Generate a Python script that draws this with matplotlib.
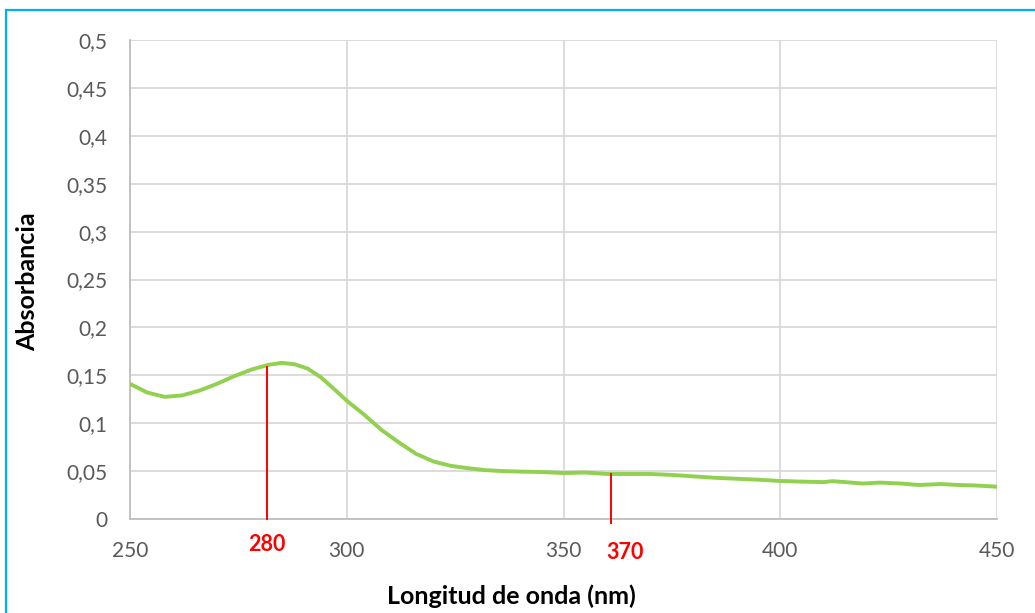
import matplotlib
matplotlib.use("Agg")
import matplotlib.pyplot as plt
from matplotlib.patches import Rectangle

# ---- data ----
wavelength = [250, 254, 258, 262, 266, 270, 274, 278, 282, 285, 288, 291, 294, 297,
              300, 304, 308, 312, 316, 320, 324, 328, 332, 336, 340, 345, 350, 355,
              360, 365, 370, 375, 380, 385, 390, 395, 400, 405, 410, 412, 415, 419,
              423, 428, 432, 437, 441, 445, 450]
absorbance = [0.141, 0.132, 0.1275, 0.129, 0.134, 0.141, 0.149, 0.156, 0.161, 0.163,
              0.1615, 0.157, 0.148, 0.136, 0.1235, 0.109, 0.093, 0.080, 0.068, 0.060,
              0.0555, 0.053, 0.051, 0.050, 0.0495, 0.049, 0.048, 0.0485, 0.047, 0.047,
              0.047, 0.046, 0.0445, 0.043, 0.042, 0.041, 0.0397, 0.039, 0.0385, 0.0395,
              0.0385, 0.037, 0.038, 0.037, 0.0355, 0.0365, 0.0355, 0.035, 0.0337]

x_ticks = [250, 300, 350, 400, 450]
x_tick_labels = ["250", "300", "350", "400", "450"]
y_ticks = [0, 0.05, 0.1, 0.15, 0.2, 0.25, 0.3, 0.35, 0.4, 0.45, 0.5]
y_tick_labels = ["0", "0,05", "0,1", "0,15", "0,2", "0,25", "0,3", "0,35", "0,4", "0,45", "0,5"]

# manual red markers (drawn positions, labels)
marker_x = [281.5, 361]
marker_top = [0.159, 0.047]
marker_bottom = [0.0, -0.004]
marker_labels = ["280", "370"]
marker_label_x = [281.6, 364.2]
marker_label_y = [-0.027, -0.035]

FONT = "Lato"
plt.rcParams['font.family'] = [FONT, 'DejaVu Sans']

fig = plt.figure(figsize=(10.35, 6.13), dpi=100)
ax = fig.add_axes([130/1035, 1 - 519/613, (997-130)/1035, (519-40)/613])

ax.set_xlim(250, 450)
ax.set_ylim(0, 0.5)
ax.set_xticks(x_ticks)
ax.set_xticklabels(x_tick_labels)
ax.set_yticks(y_ticks)
ax.set_yticklabels(y_tick_labels)
ax.tick_params(length=0, labelsize=15, colors="#595959", pad=16)
ax.grid(True, color="#D9D9D9", linewidth=1.3)
ax.set_axisbelow(True)
for s in ["top", "right"]:
    ax.spines[s].set_visible(False)
for s in ["left", "bottom"]:
    ax.spines[s].set_color("#BFBFBF")
    ax.spines[s].set_linewidth(1.3)

ax.plot(wavelength, absorbance, color="#92D050", linewidth=2.8,
        solid_capstyle="round", solid_joinstyle="round", zorder=3)

for mx, mt, mb, ml, lx, ly in zip(marker_x, marker_top, marker_bottom,
                                  marker_labels, marker_label_x, marker_label_y):
    ax.plot([mx, mx], [mb, mt], color="#FF0000", linewidth=1.4, zorder=4, clip_on=False)
    ax.text(lx, ly, ml, color="#FF0000", fontsize=15.5, fontweight="bold",
            ha="center", va="center", clip_on=False)

fig.text(511.5/1035, 1 - 596/613, "Longitud de onda (nm)", fontsize=18,
         fontweight="bold", ha="center", va="center", color="black")
fig.text(28/1035, 1 - 282/613, "Absorbancia", fontsize=18, fontweight="bold",
         rotation=90, ha="center", va="center", color="black")

fig.patches.append(Rectangle((6/1035, -0.05), 1.1, 1 - 10/613 + 0.05,
                             transform=fig.transFigure, fill=False,
                             edgecolor="#00B0F0", linewidth=1.6))

fig.savefig("out.png", dpi=100, facecolor="white")
